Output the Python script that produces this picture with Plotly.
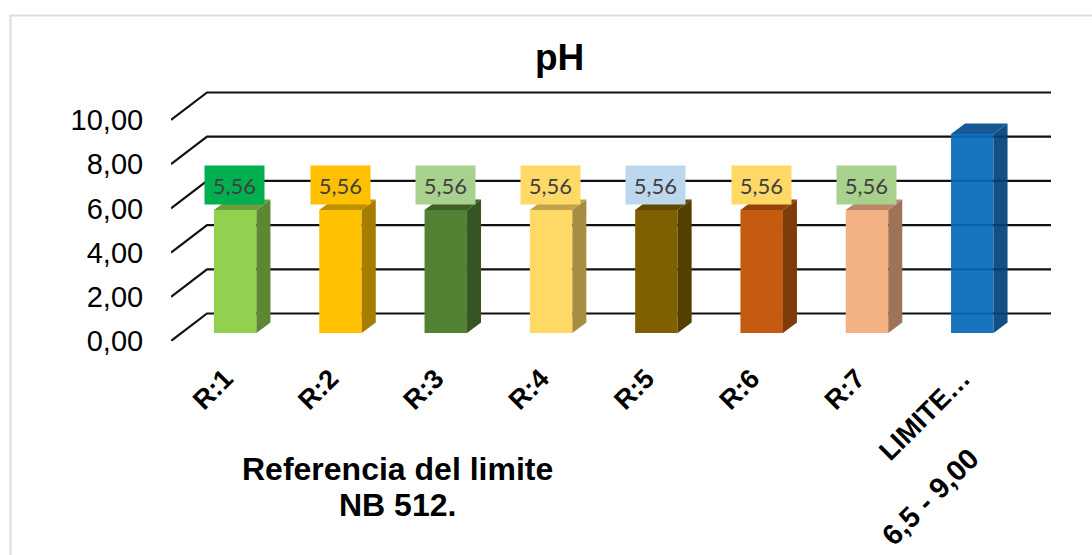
import plotly.graph_objects as go

categories = ["R:1", "R:2", "R:3", "R:4", "R:5", "R:6", "R:7", "LIMITE…"]
values = [5.56, 5.56, 5.56, 5.56, 5.56, 5.56, 5.56, 9.00]
labels = ["5,56"] * 7
front_colors = ["#92D050", "#FFC000", "#548235", "#FFD966", "#7F6000", "#C55A11", "#F4B183", "#0569BA"]
side_colors = ["#5F8733", "#A67D00", "#375522", "#A68D42", "#534000", "#803B0B", "#9F7357", "#014377"]
top_colors = ["#6F9C3D", "#BF9000", "#3F6128", "#BFA34C", "#5F4800", "#944309", "#BC8768", "#044F8E"]
label_colors = ["#00B050", "#FFC000", "#A9D18E", "#FFD966", "#BDD7EE", "#FFD966", "#A9D18E"]
grid_values = [0, 2, 4, 6, 8, 10]

# Pixel scale of the plot
PX_X = 105.3
PX_Y = 22.1
X_MIN = (171 - 235.2) / PX_X
X_MAX = (1051 - 235.2) / PX_X
Y_MAX = (341 - 80) / PX_Y
BAR_W = 42.5 / PX_X
BASE = 8 / PX_Y
SIDE_DX = 14 / PX_X
SIDE_DY = 10.5 / PX_Y
BACK_DX = 36 / PX_X
BACK_DY = 27.5 / PX_Y
BLUE_OPACITY = 0.93


def px(x):
    return (x - 171) / 880


def py(y):
    return (341 - y) / 261


x_pos = list(range(len(categories)))
fig = go.Figure()

# front faces
fig.add_trace(go.Bar(
    x=x_pos, y=values, base=BASE, width=BAR_W,
    marker=dict(color=front_colors, line=dict(width=0),
                opacity=[1] * 7 + [BLUE_OPACITY]),
    hoverinfo="skip", showlegend=False,
))

# side and top faces, derived from the values
for i, v in enumerate(values):
    r = i + BAR_W / 2
    l = i - BAR_W / 2
    top = v + BASE
    fig.add_trace(go.Scatter(
        x=[r, r + SIDE_DX, r + SIDE_DX, r, r],
        y=[BASE, BASE + SIDE_DY, top + SIDE_DY, top, BASE],
        mode="lines", fill="toself", fillcolor=side_colors[i],
        opacity=BLUE_OPACITY if i == 7 else 1,
        line=dict(width=0), hoverinfo="skip", showlegend=False,
    ))
    fig.add_trace(go.Scatter(
        x=[l, l + SIDE_DX, r + SIDE_DX, r, l],
        y=[top, top + SIDE_DY, top + SIDE_DY, top, top],
        mode="lines", fill="toself", fillcolor=top_colors[i],
        opacity=BLUE_OPACITY if i == 7 else 1,
        line=dict(width=0), hoverinfo="skip", showlegend=False,
    ))

# wall / side gridlines behind the bars
shapes = []
for g in grid_values:
    shapes.append(dict(
        type="path", xref="x", yref="y", layer="below",
        path=f"M {X_MIN},{g} L {X_MIN + BACK_DX},{g + BACK_DY} L {X_MAX},{g + BACK_DY}",
        line=dict(color="#111111", width=2.2),
    ))
# image frame
shapes.append(dict(
    type="rect", xref="paper", yref="paper", layer="below",
    x0=px(10.5), x1=px(1200), y0=py(700), y1=py(15.5),
    line=dict(color="#DDDDDD", width=2),
))

annotations = []
for i, t in enumerate(labels):
    annotations.append(dict(
        x=i, y=values[i] + BASE, xref="x", yref="y", yshift=25, xshift=-0.5,
        text=t, showarrow=False, width=59, height=38, bgcolor=label_colors[i],
        font=dict(family="Lato, Carlito, sans-serif", size=22, color="#404040"),
        borderpad=0, valign="middle", align="center",
    ))


def note(text, x, y, size, angle=0):
    annotations.append(dict(
        x=px(x), y=py(y), xref="paper", yref="paper",
        xanchor="center", yanchor="middle",
        text=f"<b>{text}</b>", showarrow=False, textangle=angle,
        font=dict(family="Liberation Sans", size=size, color="#000000"),
    ))


note("Referencia del limite", 397, 469, 32)
note("NB 512.", 397, 505, 32)
note("6,5 - 9,00", 930, 497, 29, -45)
note("pH", 559, 58, 37)

fig.update_layout(
    width=1092, height=555, autosize=False,
    margin=dict(l=171, r=41, t=80, b=214, pad=0),
    paper_bgcolor="white", plot_bgcolor="rgba(0,0,0,0)",
    separators=",.",
    showlegend=False,
    shapes=shapes, annotations=annotations,
    xaxis=dict(
        range=[X_MIN, X_MAX], tickmode="array", tickvals=x_pos, ticktext=categories,
        tickangle=-45, showgrid=False, zeroline=False, showline=False,
        ticks="outside", ticklen=10, tickcolor="rgba(0,0,0,0)", ticklabelshift=-10,
        tickfont=dict(family="Liberation Sans", size=27, color="#000000", weight=700),
    ),
    yaxis=dict(
        range=[0, Y_MAX], tickmode="array", tickvals=grid_values, tickformat=".2f",
        showgrid=False, zeroline=False, showline=False,
        ticks="outside", ticklen=21, tickcolor="rgba(0,0,0,0)",
        tickfont=dict(family="Liberation Sans", size=29, color="#000000"),
    ),
)

fig.write_html("out.html", config=dict(displayModeBar=False),
               post_script="document.body.style.margin='0';")
